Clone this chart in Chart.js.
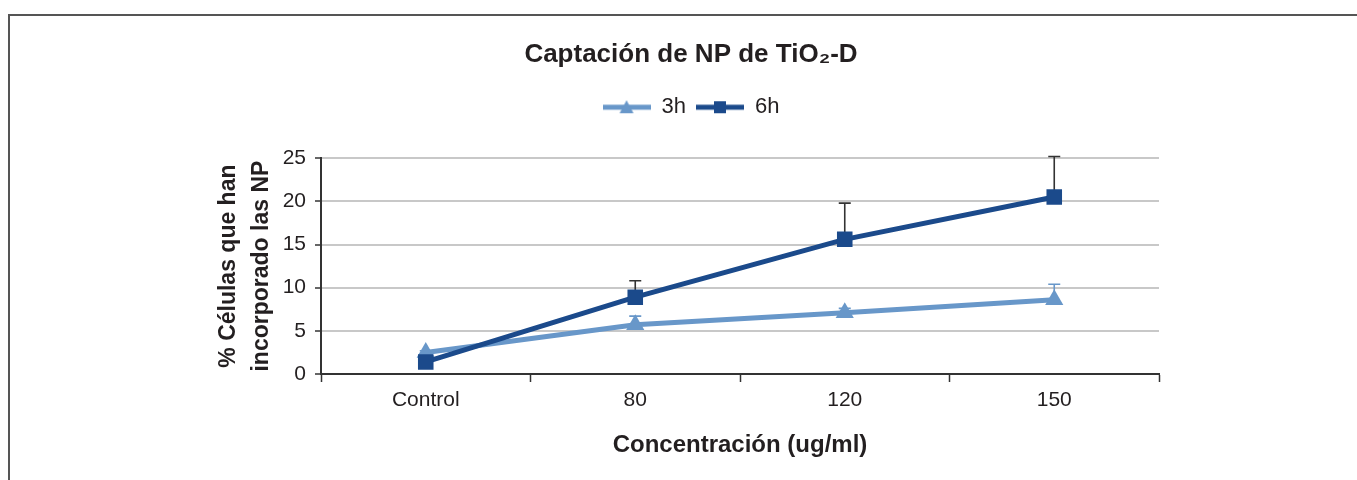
<!DOCTYPE html>
<html>
<head>
<meta charset="utf-8">
<script src="https://cdn.jsdelivr.net/npm/chart.js@4.4.0/dist/chart.umd.min.js"></script>
<style>
  body { margin: 0; background: #fff; }
  #wrap { position: relative; width: 1357px; height: 480px; }
  #frame { position: absolute; left: 8px; top: 14px; right: 0; bottom: 0; border-top: 2px solid #555; border-left: 2px solid #555; pointer-events: none; }
</style>
</head>
<body>
<div id="wrap">
  <canvas id="myChart" width="1357" height="480"></canvas>
  <div id="frame"></div>
</div>
<script>
const categories = ['Control', '80', '120', '150'];
const values3h = [2.5, 5.7, 7.1, 8.6];
const errors3h = [0.2, 1.0, 0.5, 1.8];
const values6h = [1.4, 8.9, 15.6, 20.5];
const errors6h = [0.3, 1.9, 4.2, 4.7];
const yTicks = [0, 5, 10, 15, 20, 25];

const light = '#6897c9';
const dark = '#1b4a8b';
const ink = '#231f20';
const FONT = '"Liberation Sans", Arial, sans-serif';

// little line + marker picture for the legend
function legendIcon(color, style) {
  const c = document.createElement('canvas');
  c.width = 48; c.height = 20;
  const g = c.getContext('2d');
  g.strokeStyle = color; g.lineWidth = 5;
  g.beginPath(); g.moveTo(0, 10); g.lineTo(48, 10); g.stroke();
  g.fillStyle = color;
  g.beginPath();
  if (style === 'triangle') {
    g.moveTo(24, 3); g.lineTo(31, 16); g.lineTo(17, 16);
  } else {
    g.rect(18, 4, 12, 12);
  }
  g.fill();
  return c;
}

// positive error bars only, like the original
const errorBars = {
  id: 'errorBars',
  beforeDatasetsDraw(chart) {
    const {ctx, scales: {y}} = chart;
    chart.data.datasets.forEach((ds, i) => {
      const meta = chart.getDatasetMeta(i);
      ctx.save();
      ctx.strokeStyle = ds.errorColor;
      ctx.lineWidth = 1.6;
      meta.data.forEach((pt, j) => {
        const y0 = y.getPixelForValue(ds.data[j]);
        const y1 = y.getPixelForValue(ds.data[j] + ds.errors[j]);
        ctx.beginPath();
        ctx.moveTo(pt.x, y0); ctx.lineTo(pt.x, y1);
        ctx.moveTo(pt.x - 6, y1); ctx.lineTo(pt.x + 6, y1);
        ctx.stroke();
      });
      ctx.restore();
    });
  }
};

// extra room under the legend before the plot starts
const legendGap = {
  id: 'legendGap',
  beforeInit(chart) {
    const fit = chart.legend.fit;
    chart.legend.fit = function () { fit.call(this); this.height += 30; };
  }
};

const data = {
  labels: categories,
  datasets: [
    {
      label: '3h', data: values3h, errors: errors3h, errorColor: light,
      borderColor: light, backgroundColor: light, borderWidth: 5,
      pointStyle: 'triangle', pointRadius: 10.5, pointBorderWidth: 0, order: 1
    },
    {
      label: '6h', data: values6h, errors: errors6h, errorColor: '#333',
      borderColor: dark, backgroundColor: dark, borderWidth: 5,
      pointStyle: 'rect', pointRadius: 11, pointBorderWidth: 0, order: 0
    }
  ]
};

const config = {
  type: 'line',
  data,
  plugins: [errorBars, legendGap],
  options: {
    responsive: false,
    animation: false,
    layout: { padding: { left: 223, right: 198, top: 0, bottom: 0 } },
    plugins: {
      tooltip: { enabled: false },
      title: {
        display: true,
        text: 'Captación de NP de TiO₂-D',
        color: ink,
        font: { family: FONT, size: 26, weight: 'bold' },
        padding: { top: 39, bottom: 16 }
      },
      legend: {
        display: true,
        labels: {
          color: ink,
          font: { family: FONT, size: 22 },
          usePointStyle: true,
          pointStyleWidth: 48,
          padding: 10,
          generateLabels: () => [
            { text: '3h', pointStyle: legendIcon(light, 'triangle'), datasetIndex: 0, fontColor: ink, lineWidth: 0 },
            { text: '6h', pointStyle: legendIcon(dark, 'rect'), datasetIndex: 1, fontColor: ink, lineWidth: 0 }
          ]
        }
      }
    },
    scales: {
      x: {
        offset: true,
        afterFit: s => { s.height = 106; },
        border: { color: '#333', width: 2 },
        grid: { display: true, drawOnChartArea: false, offset: true, tickLength: 8, tickColor: '#333', tickWidth: 1.5 },
        ticks: { color: ink, font: { family: FONT, size: 21 }, padding: 6 },
        title: {
          display: true, text: 'Concentración (ug/ml)', color: ink,
          font: { family: FONT, size: 24, weight: 'bold' },
          padding: { top: 0, bottom: 20 }
        }
      },
      y: {
        min: 0, max: 25,
        afterBuildTicks: s => { s.ticks = yTicks.map(v => ({ value: v })); },
        afterFit: s => { s.width = 98; },
        border: { color: '#333', width: 2 },
        grid: { color: '#c8c8c8', lineWidth: 2, tickColor: '#333', tickLength: 6, tickWidth: 1.5 },
        ticks: { color: ink, font: { family: FONT, size: 21 }, padding: 9 },
        title: {
          display: true, text: ['% Células que han', 'incorporado las NP'], color: ink,
          font: { family: FONT, size: 23, weight: 'bold', lineHeight: '33px' },
          padding: { top: -10.5, bottom: 0 }
        }
      }
    }
  }
};

const myChart = new Chart(document.getElementById('myChart'), config);
</script>
</body>
</html>
